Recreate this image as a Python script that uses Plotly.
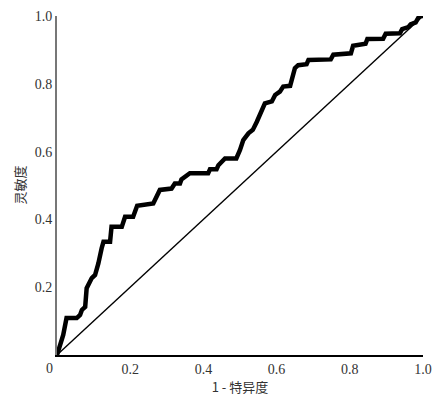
import plotly.graph_objects as go

# ROC curve
fpr = [0, 0.013, 0.017, 0.026, 0.054, 0.063, 0.068, 0.077, 0.081, 0.095,
       0.104, 0.113, 0.117, 0.122, 0.127, 0.145, 0.149, 0.177, 0.186, 0.208,
       0.219, 0.263, 0.281, 0.313, 0.322, 0.336, 0.34, 0.363, 0.413, 0.418,
       0.436, 0.441, 0.459, 0.49, 0.5, 0.509, 0.523, 0.535, 0.546, 0.555,
       0.568, 0.587, 0.596, 0.609, 0.618, 0.637, 0.65, 0.659, 0.682, 0.687,
       0.748, 0.755, 0.803, 0.809, 0.843, 0.848, 0.891, 0.898, 0.937, 0.943,
       0.96, 0.966, 0.98, 0.99, 1.0]
tpr = [0, 0.044, 0.059, 0.109, 0.109, 0.118, 0.133, 0.142, 0.197, 0.227,
       0.236, 0.27, 0.30, 0.315, 0.334, 0.334, 0.378, 0.378, 0.408, 0.408,
       0.44, 0.447, 0.487, 0.491, 0.506, 0.506, 0.518, 0.536, 0.536, 0.548,
       0.548, 0.56, 0.58, 0.58, 0.605, 0.634, 0.654, 0.664, 0.688, 0.713,
       0.742, 0.748, 0.767, 0.777, 0.792, 0.794, 0.846, 0.855, 0.858, 0.87,
       0.872, 0.886, 0.89, 0.912, 0.918, 0.932, 0.933, 0.948, 0.949, 0.961,
       0.967, 0.975, 0.981, 1.0, 1.0]

ref_line = [0, 1]
x_ticks = [0.2, 0.4, 0.6, 0.8, 1.0]
x_labels = ["0.2", "0.4", "0.6", "0.8", "1.0"]
y_ticks = [0.2, 0.4, 0.6, 0.8, 1.0]
y_labels = ["0.2", "0.4", "0.6", "0.8", "1.0"]

tick_font = dict(family="Liberation Serif, DejaVu Serif, serif", size=14, color="#333333")
cjk_font = dict(family="Noto Sans CJK SC", size=13, color="#333333")

fig = go.Figure()
fig.add_trace(go.Scatter(x=ref_line, y=ref_line, mode="lines",
                         line=dict(color="black", width=1.3), showlegend=False))
fig.add_trace(go.Scatter(x=fpr, y=tpr, mode="lines",
                         line=dict(color="black", width=4.5), showlegend=False))

# shared "0" at the corner
fig.add_annotation(x=0, y=0, xref="x", yref="y", text="0", showarrow=False,
                   xshift=-8, yshift=-13, font=tick_font)
# y title placed by hand, standoff does nothing without automargin
fig.add_annotation(x=0, y=0.5, xref="paper", yref="paper", text="灵敏度",
                   textangle=-90, showarrow=False, xanchor="center",
                   xshift=-38, font=cjk_font)

# page body has an 8px margin, so the figure is a bit smaller than the window
fig.update_layout(
    width=438, height=392,
    margin=dict(l=49, r=23, t=8, b=45),
    plot_bgcolor="white", paper_bgcolor="white",
    xaxis=dict(range=[0, 1], tickvals=x_ticks, ticktext=x_labels,
               showgrid=False, zeroline=False, showline=True,
               linecolor="black", linewidth=2, ticks="",
               tickfont=tick_font, automargin=False,
               title=dict(text="1 - 特异度", font=cjk_font, standoff=5)),
    yaxis=dict(range=[0, 1], tickvals=y_ticks, ticktext=y_labels,
               showgrid=False, zeroline=False, showline=True,
               linecolor="#777777", linewidth=2, ticks="",
               tickfont=tick_font, automargin=False),
)

fig.write_html("out.html")
